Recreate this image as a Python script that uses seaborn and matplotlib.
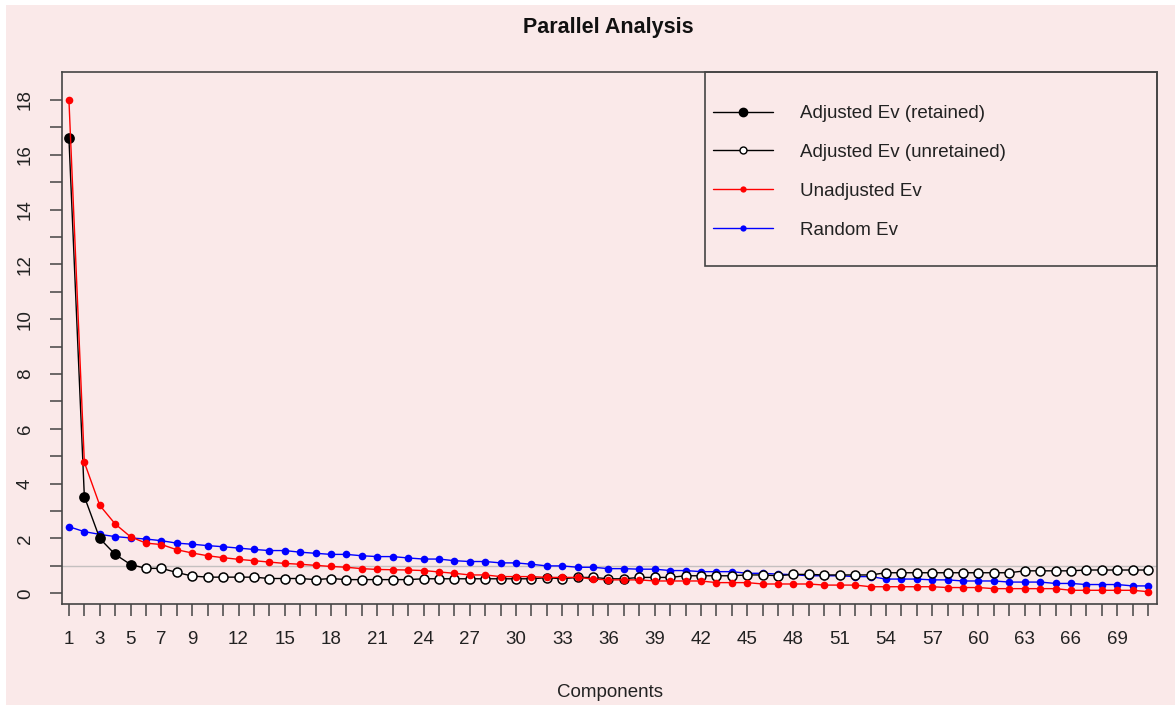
import numpy as np
import pandas as pd
import matplotlib
matplotlib.use("Agg")
import matplotlib.pyplot as plt
from matplotlib.lines import Line2D
from matplotlib.patches import Rectangle
import seaborn as sns

# values
components = list(range(1, 72))
n_retained = 5

adjusted_ev = [16.6, 3.53, 2.0, 1.42, 1.05,
               0.91, 0.91, 0.76, 0.63, 0.59, 0.59, 0.59, 0.59, 0.54, 0.54,
               0.54, 0.50, 0.54, 0.50, 0.50, 0.50, 0.50, 0.50, 0.53, 0.53,
               0.53, 0.53, 0.53, 0.53, 0.53, 0.53, 0.57, 0.53, 0.58, 0.58,
               0.53, 0.53, 0.58, 0.58, 0.58, 0.64, 0.64, 0.64, 0.64, 0.67,
               0.67, 0.64, 0.69, 0.69, 0.67, 0.67, 0.67, 0.67, 0.75, 0.75,
               0.75, 0.75, 0.75, 0.75, 0.75, 0.75, 0.75, 0.82, 0.82, 0.82,
               0.82, 0.85, 0.85, 0.85, 0.85, 0.85]

unadjusted_ev = [18.0, 4.78, 3.21, 2.53, 2.06, 1.83, 1.78, 1.59, 1.47, 1.37,
                 1.30, 1.24, 1.19, 1.14, 1.09, 1.06, 1.02, 0.98, 0.95, 0.90,
                 0.87, 0.86, 0.85, 0.83, 0.78, 0.73, 0.67, 0.67, 0.61, 0.61,
                 0.61, 0.58, 0.58, 0.58, 0.52, 0.49, 0.49, 0.49, 0.45, 0.45,
                 0.45, 0.45, 0.39, 0.39, 0.39, 0.34, 0.34, 0.34, 0.34, 0.30,
                 0.30, 0.30, 0.24, 0.24, 0.24, 0.24, 0.24, 0.21, 0.21, 0.21,
                 0.17, 0.17, 0.17, 0.17, 0.17, 0.11, 0.11, 0.11, 0.11, 0.11,
                 0.06]

random_ev = [2.43, 2.25, 2.15, 2.07, 2.02, 1.98, 1.92, 1.83, 1.79, 1.74,
             1.70, 1.65, 1.60, 1.56, 1.56, 1.50, 1.46, 1.42, 1.42, 1.37,
             1.34, 1.34, 1.29, 1.25, 1.25, 1.19, 1.16, 1.16, 1.11, 1.11,
             1.06, 1.00, 1.00, 0.95, 0.95, 0.90, 0.90, 0.88, 0.88, 0.83,
             0.83, 0.79, 0.79, 0.79, 0.73, 0.73, 0.70, 0.68, 0.64, 0.64,
             0.64, 0.61, 0.61, 0.52, 0.52, 0.52, 0.49, 0.49, 0.45, 0.45,
             0.45, 0.41, 0.41, 0.41, 0.36, 0.36, 0.32, 0.32, 0.32, 0.27,
             0.27]

x_labels = [1, 3, 5, 7, 9] + list(range(12, 70, 3))
y_labels = list(range(0, 19, 2))
legend_labels = ["Adjusted Ev (retained)", "Adjusted Ev (unretained)",
                 "Unadjusted Ev", "Random Ev"]

df = pd.DataFrame({"comp": components, "adj": adjusted_ev,
                   "unadj": unadjusted_ev, "rand": random_ev})
df["retained"] = df["comp"] <= n_retained

sns.set_style("ticks")
plt.rcParams["font.family"] = ["Liberation Sans", "DejaVu Sans"]

bg = "#FAE9E9"
W, H = 1175, 705
fig = plt.figure(figsize=(W / 100, H / 100), dpi=100, facecolor="white")
fig.patches.append(Rectangle((6 / W, 0), 1, 1 - 5 / H, transform=fig.transFigure,
                             facecolor=bg, edgecolor="none", zorder=-10))

L, R, T, B = 62.3, 1157, 72, 604
ax = fig.add_axes([L / W, 1 - B / H, (R - L) / W, (B - T) / H])
ax.set_facecolor(bg)

ax.axhline(1, color="#C4C0C0", lw=1, zorder=1)

sns.lineplot(data=df, x="comp", y="rand", color="#0000FF", lw=1, marker="o",
             markersize=5.5, markeredgewidth=0, ax=ax, zorder=2, legend=False)
sns.lineplot(data=df, x="comp", y="adj", color="black", lw=1, ax=ax,
             zorder=3, legend=False)
sns.scatterplot(data=df[df["retained"]], x="comp", y="adj", color="black",
                s=60, linewidth=0, ax=ax, zorder=4, legend=False)
sns.scatterplot(data=df[~df["retained"]], x="comp", y="adj", color="white",
                edgecolor="black", s=42, linewidth=1.1, ax=ax, zorder=4,
                legend=False)
sns.lineplot(data=df, x="comp", y="unadj", color="#FF0000", lw=1, marker="o",
             markersize=5.5, markeredgewidth=0, ax=ax, zorder=5, legend=False)

ax.set_xlim(0.57, 71.58)
ax.set_ylim(-0.39, 19.02)
ax.set_xticks(components)
ax.set_xticklabels([str(c) if c in x_labels else "" for c in components])
ax.set_yticks(range(0, 19))
ax.set_yticklabels([str(v) if v in y_labels else "" for v in range(0, 19)],
                   rotation=90, va="center")
ax.tick_params(axis="both", direction="out", length=8.5, width=1.1,
               color="#444444", labelsize=13.5, labelcolor="#222222")
ax.tick_params(axis="x", pad=11)
ax.tick_params(axis="y", pad=12)
for sp in ax.spines.values():
    sp.set_visible(True)
    sp.set_color("#444444")
    sp.set_linewidth(1.2)

ax.set_xlabel("Components", fontsize=13.5, color="#222222")
ax.xaxis.set_label_coords(0.5, -(690 - B) / (B - T) + 0.012)
ax.set_ylabel("")
fig.text(608 / W, 1 - 27 / H, "Parallel Analysis", fontsize=15.5,
         fontweight="bold", ha="center", va="center", color="#111111")

# legend box
lx0 = (705 - L) / (R - L)
ly0 = (B - 266) / (B - T)
ax.add_patch(Rectangle((lx0, ly0), 1 - lx0, 1 - ly0, transform=ax.transAxes,
                       facecolor="none", edgecolor="#444444", lw=1.2,
                       zorder=6, clip_on=False))
handles = [
    Line2D([], [], color="black", lw=1, marker="o", ms=6, mfc="black", mec="black"),
    Line2D([], [], color="black", lw=1, marker="o", ms=5, mfc="white", mec="black"),
    Line2D([], [], color="#FF0000", lw=1, marker="o", ms=4.5, mew=0),
    Line2D([], [], color="#0000FF", lw=1, marker="o", ms=4.5, mew=0),
]
ax.legend(handles, legend_labels, loc="upper left",
          bbox_to_anchor=((713 - L) / (R - L), (B - 105) / (B - T)),
          frameon=False, borderpad=0, borderaxespad=0, fontsize=13.5,
          labelspacing=1.16, handlelength=3.2, handletextpad=1.45,
          labelcolor="#222222")

fig.savefig("out.png", dpi=100, facecolor=fig.get_facecolor())
